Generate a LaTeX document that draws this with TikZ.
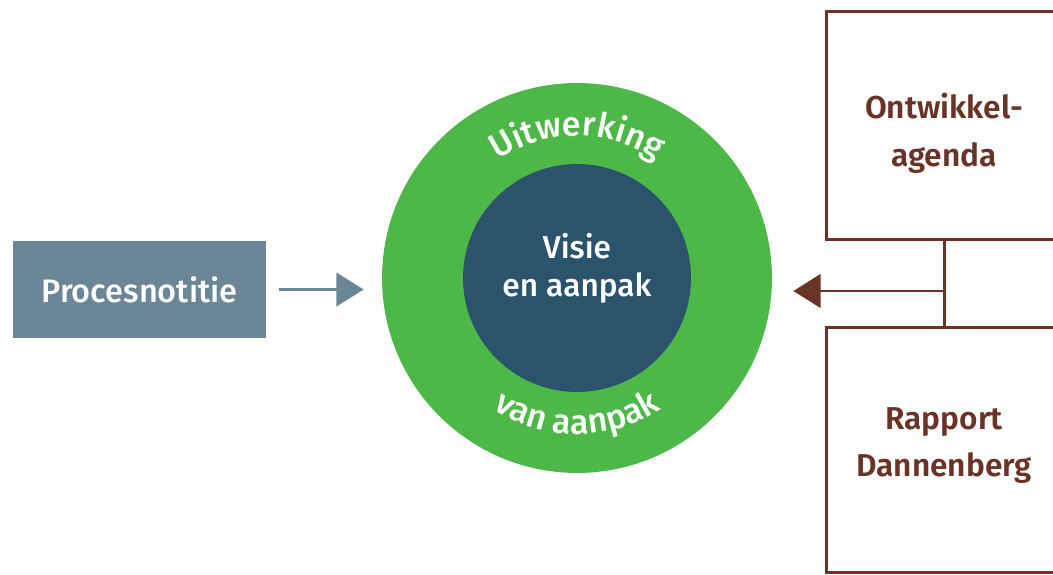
\documentclass[tikz,border=0pt]{standalone}
\usepackage{fontspec}
\setmainfont{Fira Sans}[BoldFont={Fira Sans SemiBold}]
\newfontfamily\mediumfont{Fira Sans Medium}
\usetikzlibrary{positioning,calc,arrows.meta,decorations.text}
\definecolor{procgrey}{HTML}{6B8797}
\definecolor{ringgreen}{HTML}{4DB848}
\definecolor{coreblue}{HTML}{2B536B}
\definecolor{framebrown}{HTML}{6A3328}

\begin{document}
\begin{tikzpicture}[x=0.02cm,y=0.02cm,
    procbox/.style={rectangle,fill=procgrey,text=white,minimum width=5.06cm,minimum height=1.94cm,font=\mediumfont\fontsize{18.5}{22}\selectfont},
    framebox/.style={rectangle,draw=framebrown,line width=1.7pt,minimum width=4.72cm},
    frametext/.style={text=framebrown,align=center,font=\fontsize{18}{27}\selectfont\bfseries},
    coretext/.style={text=white,align=center,font=\mediumfont\fontsize{18}{21.6}\selectfont},
    ringtext/.style={decorate,decoration={text along path,text align=center,text={|\mediumfont\fontsize{19.5}{22}\selectfont\color{white}|#1}}},
    greyarrow/.style={draw=procgrey,line width=1.7pt,-{Triangle[length=15.5pt,width=19pt]}},
    brownarrow/.style={draw=framebrown,line width=1.7pt,-{Triangle[length=15.5pt,width=19pt]}}]
  \useasboundingbox (0,0) rectangle (1053,574);
  \clip (0,0) rectangle (1053,574);

  % circle with the two layers
  \node[circle,fill=ringgreen,minimum size=7.8cm,inner sep=0pt] (ring) at (577,296) {};
  \node[circle,fill=coreblue,minimum size=4.56cm,inner sep=0pt] (core) at (ring.center) {};
  \node[coretext] (visie) at ($(core.center)+(0,10)$) {Visie\\en aanpak};
  \path[ringtext=Uitwerking] (ring.center) ++(160:142) arc[start angle=160,end angle=20,radius=142];
  \path[ringtext=van aanpak] (ring.center) ++(200:156) arc[start angle=200,end angle=340,radius=156];

  % left input
  \node[procbox] (proc) at (139.5,284.5) {Procesnotitie};
  \draw[greyarrow,shorten <=13*0.02cm,shorten >=18*0.02cm] (proc.east) -- (proc.east -| ring.west);

  % right inputs
  \node[framebox,minimum height=4.58cm] (agenda) at (944,448.5) {};
  \node[frametext] at ($(agenda.center)+(0,-8)$) {Ontwikkel-\\agenda};
  \node[framebox,minimum height=4.92cm] (rapport) at (944,124) {};
  \node[frametext] at ($(rapport.center)+(0,4.5)$) {Rapport\\Dannenberg};
  \draw[framebrown,line width=1.7pt] (agenda.south) -- (rapport.north);
  \coordinate (join) at (945,283);
  \draw[brownarrow,shorten >=21*0.02cm] (join) -- (join -| ring.east);
\end{tikzpicture}
\end{document}
